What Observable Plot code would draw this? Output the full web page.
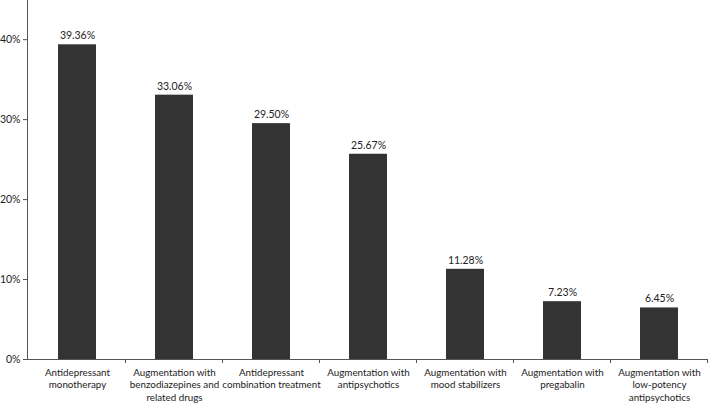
<!DOCTYPE html>
<html>
<head>
<meta charset="utf-8">
<script src="https://cdn.jsdelivr.net/npm/d3@7"></script>
<script src="https://cdn.jsdelivr.net/npm/@observablehq/plot@0.6"></script>
<style>
  html, body { margin: 0; padding: 0; background: #fff; }
  #chart svg { display: block; font-family: Lato, "Liberation Sans", sans-serif; }
</style>
</head>
<body>
<div id="chart"></div>
<script>
const categories = [
  "Antidepressant\nmonotherapy",
  "Augmentation with\nbenzodiazepines and\nrelated drugs",
  "Antidepressant\ncombination treatment",
  "Augmentation with\nantipsychotics",
  "Augmentation with\nmood stabilizers",
  "Augmentation with\npregabalin",
  "Augmentation with\nlow-potency\nantipsychotics"
];
const values = [39.36, 33.06, 29.50, 25.67, 11.28, 7.23, 6.45];
const yTicks = [0, 10, 20, 30, 40];

const data = categories.map((c, i) => ({category: c, value: values[i]}));

const chart = Plot.plot({
  width: 709,
  height: 403,
  marginLeft: 27,
  marginRight: 1,
  marginTop: 0,
  marginBottom: 44,
  style: {fontFamily: "Lato, 'Liberation Sans', sans-serif", fontSize: "10.5px", color: "#222"},
  x: {domain: categories, paddingInner: 0.61, paddingOuter: 0.305, label: null},
  y: {domain: [0, 44.9], label: null},
  marks: [
    Plot.barY(data, {x: "category", y: "value", fill: "#333333"}),
    Plot.text(data, {x: "category", y: "value", text: d => d.value.toFixed(2) + "%", dy: -9, fontSize: 10.5, fill: "#222"}),
    Plot.ruleY([0], {stroke: "#555", strokeWidth: 1}),
    Plot.axisY({ticks: yTicks, tickFormat: d => d + "%", tickSize: 4, tickPadding: 3, fontSize: 10.5, stroke: "#555", label: null}),
    Plot.axisX({tickSize: 0, tickPadding: 8, fontSize: 9.8, lineHeight: 1.25, label: null}),
    Plot.frame({anchor: "left", stroke: "#555"})
  ]
});
document.getElementById("chart").appendChild(chart);

// band-boundary ticks on the category axis, derived from the x scale
const xs = chart.scale("x");
const ys = chart.scale("y");
const y0 = ys.apply(0);
const gap = (xs.step - xs.bandwidth) / 2;
const bounds = categories.map(c => xs.apply(c) + xs.bandwidth + gap);
d3.select(chart).append("g")
  .attr("stroke", "#555")
  .selectAll("line")
  .data(bounds)
  .join("line")
  .attr("x1", d => d).attr("x2", d => d)
  .attr("y1", y0).attr("y2", y0 + 4);
</script>
</body>
</html>
